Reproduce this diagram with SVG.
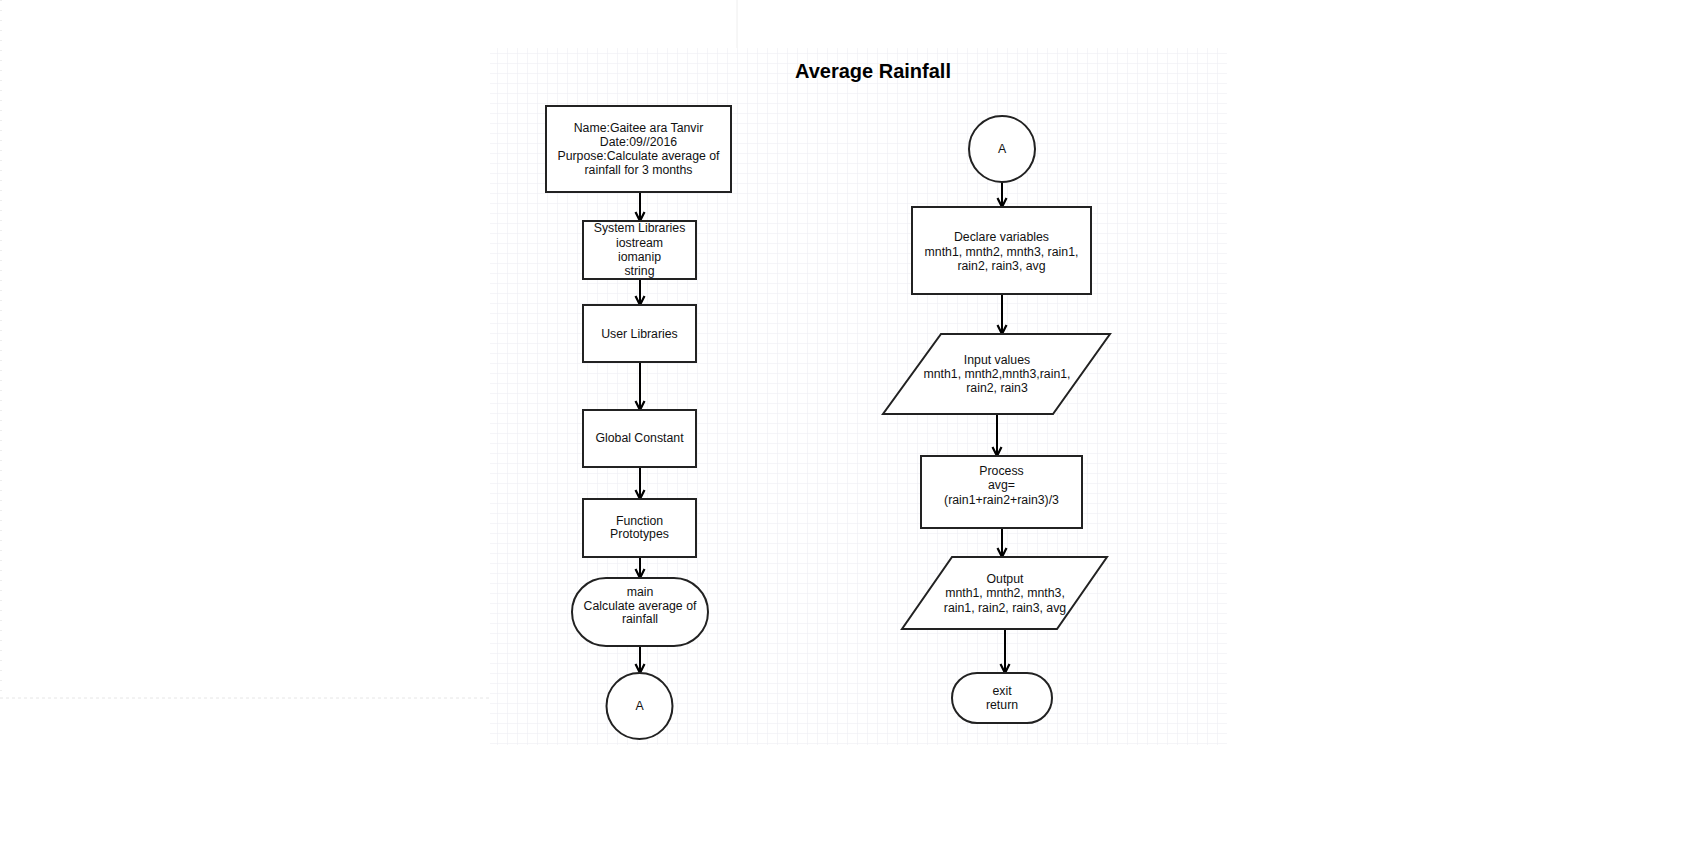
<svg xmlns="http://www.w3.org/2000/svg" width="1688" height="846" viewBox="0 0 1688 846">
<defs>
<pattern id="grid" x="497" y="53" width="10" height="10" patternUnits="userSpaceOnUse">
<path d="M0,0 V10 M0,0 H10" stroke="#ebebf1" stroke-width="1" fill="none"/>
</pattern>
<marker id="arr" markerWidth="12" markerHeight="12" refX="10" refY="6" orient="auto" markerUnits="userSpaceOnUse">
<path d="M1,1.5 L10,6 L1,10.5" fill="none" stroke="#000" stroke-width="2.2"/>
</marker>
</defs>
<style>
.box{fill:#fff;stroke:#222;stroke-width:2}
.t{font-family:"Liberation Sans",Arial,sans-serif;font-size:12.3px;fill:#111;text-anchor:middle}
.title{font-family:"Liberation Sans",Arial,sans-serif;font-size:20px;font-weight:bold;fill:#000;text-anchor:middle}
.c{stroke:#000;stroke-width:2;fill:none;marker-end:url(#arr)}
</style>
<rect width="1688" height="846" fill="#fff"/>
<line x1="737" y1="0" x2="737" y2="48" stroke="#eeeeee" stroke-width="1"/>
<line x1="0" y1="698" x2="490" y2="698" stroke="#e6e6e6" stroke-width="1" stroke-dasharray="3,3"/>
<line x1="1" y1="0" x2="1" y2="700" stroke="#eeeeee" stroke-width="2" stroke-dasharray="1,9"/>
<rect x="490" y="48" width="737" height="697" fill="url(#grid)"/>
<text class="title" x="873" y="78">Average Rainfall</text>

<g id="connectors">
<line class="c" x1="640" y1="192" x2="640" y2="221"/>
<line class="c" x1="640" y1="279" x2="640" y2="305"/>
<line class="c" x1="640" y1="362" x2="640" y2="410"/>
<line class="c" x1="640" y1="467" x2="640" y2="499"/>
<line class="c" x1="640" y1="557" x2="640" y2="578"/>
<line class="c" x1="640" y1="646" x2="640" y2="673"/>
<line class="c" x1="1002" y1="182" x2="1002" y2="207"/>
<line class="c" x1="1002" y1="294" x2="1002" y2="334"/>
<line class="c" x1="997" y1="414" x2="997" y2="456"/>
<line class="c" x1="1002" y1="528" x2="1002" y2="557"/>
<line class="c" x1="1005" y1="629" x2="1005" y2="673"/>
</g>

<g id="header">
<rect class="box" x="546" y="106" width="185" height="86"/>
<text class="t" x="638.5" y="132">Name:Gaitee ara Tanvir</text>
<text class="t" x="638.5" y="146">Date:09//2016</text>
<text class="t" x="638.5" y="160">Purpose:Calculate average of</text>
<text class="t" x="638.5" y="174">rainfall for 3 months</text>
</g>
<g id="syslib">
<rect class="box" x="583" y="221" width="113" height="58"/>
<text class="t" x="639.5" y="232">System Libraries</text>
<text class="t" x="639.5" y="247">iostream</text>
<text class="t" x="639.5" y="261">iomanip</text>
<text class="t" x="639.5" y="275">string</text>
</g>
<g id="userlib">
<rect class="box" x="583" y="305" width="113" height="57"/>
<text class="t" x="639.5" y="338">User Libraries</text>
</g>
<g id="globconst">
<rect class="box" x="583" y="410" width="113" height="57"/>
<text class="t" x="639.5" y="442">Global Constant</text>
</g>
<g id="funcproto">
<rect class="box" x="583" y="499" width="113" height="58"/>
<text class="t" x="639.5" y="525">Function</text>
<text class="t" x="639.5" y="538">Prototypes</text>
</g>
<g id="main">
<rect class="box" x="572" y="578" width="136" height="68" rx="34" ry="34"/>
<text class="t" x="640" y="596">main</text>
<text class="t" x="640" y="610">Calculate average of</text>
<text class="t" x="640" y="623">rainfall</text>
</g>
<g id="connA1">
<circle class="box" cx="639.5" cy="706" r="33"/>
<text class="t" x="639.5" y="710">A</text>
</g>

<g id="connA2">
<circle class="box" cx="1002" cy="149" r="33"/>
<text class="t" x="1002" y="153">A</text>
</g>
<g id="declare">
<rect class="box" x="912" y="207" width="179" height="87"/>
<text class="t" x="1001.5" y="241">Declare variables</text>
<text class="t" x="1001.5" y="256">mnth1, mnth2, mnth3, rain1,</text>
<text class="t" x="1001.5" y="270">rain2, rain3, avg</text>
</g>
<g id="input">
<polygon class="box" points="941,334 1110,334 1053,414 883,414"/>
<text class="t" x="997" y="364">Input values</text>
<text class="t" x="997" y="378">mnth1, mnth2,mnth3,rain1,</text>
<text class="t" x="997" y="392">rain2, rain3</text>
</g>
<g id="process">
<rect class="box" x="921" y="456" width="161" height="72"/>
<text class="t" x="1001.5" y="475">Process</text>
<text class="t" x="1001.5" y="489">avg=</text>
<text class="t" x="1001.5" y="504">(rain1+rain2+rain3)/3</text>
</g>
<g id="output">
<polygon class="box" points="952,557 1107,557 1057,629 902,629"/>
<text class="t" x="1005" y="583">Output</text>
<text class="t" x="1005" y="597">mnth1, mnth2, mnth3,</text>
<text class="t" x="1005" y="612">rain1, rain2, rain3, avg</text>
</g>
<g id="exit">
<rect class="box" x="952" y="673" width="100" height="50" rx="25" ry="25"/>
<text class="t" x="1002" y="695">exit</text>
<text class="t" x="1002" y="709">return</text>
</g>
</svg>
